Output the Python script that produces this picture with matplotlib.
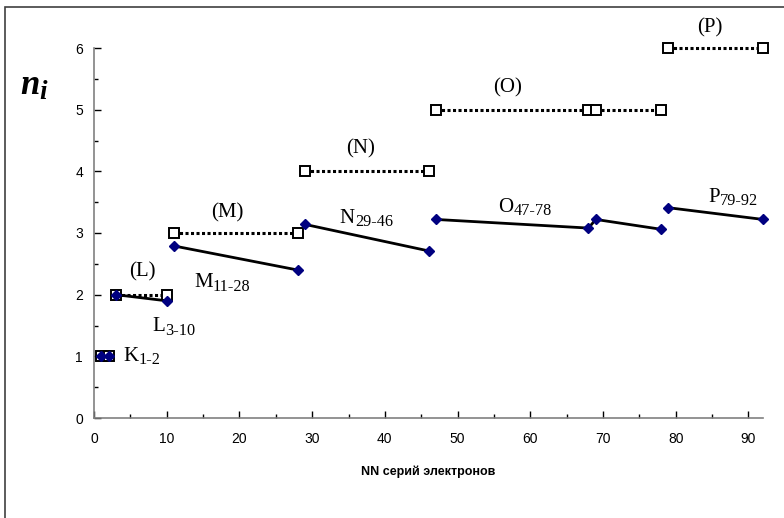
import matplotlib
matplotlib.use("Agg")
import matplotlib.pyplot as plt
from matplotlib.patches import Rectangle
from matplotlib.ticker import MultipleLocator

plt.rcParams['font.family'] = ['Liberation Sans', 'DejaVu Sans']

# electron numbers for each shell (first/last, O has a split at 68/69)
shells = ['K', 'L', 'M', 'N', 'O', 'P']
ranges = ['1-2', '3-10', '11-28', '29-46', '47-78', '79-92']
nn = [
    [1, 2],
    [3, 10],
    [11, 28],
    [29, 46],
    [47, 68, 69, 78],
    [79, 92],
]
# principal quantum number of the shell
n_shell = [
    [1, 1],
    [2, 2],
    [3, 3],
    [4, 4],
    [5, 5, 5, 5],
    [6, 6],
]
# effective n_i of the series
n_eff = [
    [1.0, 1.0],
    [2.0, 1.9],
    [2.79, 2.4],
    [3.14, 2.71],
    [3.22, 3.08, 3.22, 3.06],
    [3.41, 3.22],
]

# label anchors (data coords)
series_lbl_xy = [(4.1, 1.0), (8.0, 1.48), (13.8, 2.19), (33.8, 3.24), (55.6, 3.42), (84.5, 3.58)]
shell_lbl_xy = [None, (6.6, 2.37), (18.3, 3.32), (36.6, 4.36), (56.9, 5.35), (84.7, 6.32)]

SERIF = 'Liberation Serif'

fig = plt.figure(figsize=(7.84, 5.18), dpi=100)
ax = fig.add_axes([94 / 784, 1 - 418 / 518, (763 - 94) / 784, (418 - 48) / 518])

for x, ns, ne in zip(nn, n_shell, n_eff):
    ax.plot(x, ns, ls=(0, (1, 0.8)), lw=2.2, color='black', marker='s', ms=7,
            mfc='white', mec='black', mew=1.4, clip_on=False, zorder=3)
    ax.plot(x, ne, ls='-', lw=2.0, color='black', marker='D', ms=5,
            mfc='#000080', mec='#000080', clip_on=False, zorder=4)


def sub_label(x, y, base, sub, size, coords, **kw):
    t = ax.text(x, y, base, fontsize=size, va='center', ha='left',
                family=SERIF, transform=coords, clip_on=False, **kw)
    # subscript sits a little below the base text's baseline
    ax.annotate(sub, xy=(1, 0), xycoords=t, xytext=(0, size * 0.08),
                textcoords='offset points', fontsize=size * 0.78,
                va='baseline', ha='left', family=SERIF,
                annotation_clip=False, **kw)
    return t


for s, r, (lx, ly) in zip(shells, ranges, series_lbl_xy):
    sub_label(lx, ly, s, r, 15, ax.transData)

for s, xy in zip(shells, shell_lbl_xy):
    if xy is None:
        continue
    ax.text(xy[0], xy[1], '(%s)' % s, fontsize=15, va='center', ha='center',
            family=SERIF, clip_on=False)

ax.set_xlim(0, 92)
ax.set_ylim(0, 6)
ax.xaxis.set_major_locator(MultipleLocator(10))
ax.xaxis.set_minor_locator(MultipleLocator(5))
ax.yaxis.set_major_locator(MultipleLocator(1))
ax.yaxis.set_minor_locator(MultipleLocator(0.5))
ax.tick_params(which='major', direction='in', length=5, width=1, labelsize=10, pad=8)
ax.tick_params(which='minor', direction='in', length=3, width=1)
ax.tick_params(axis='x', pad=10)

for side in ('top', 'right'):
    ax.spines[side].set_visible(False)
for side in ('left', 'bottom'):
    ax.spines[side].set_color('#808080')
    ax.spines[side].set_linewidth(1.2)

ax.set_xlabel('NN серий электронов', fontsize=9, fontweight='bold', labelpad=14)

# axis symbol n_i, bold italic serif
sub_label(20 / 784, 1 - 85 / 518, 'n', 'i', 25, fig.transFigure,
          style='italic', weight='bold')

# frame around the whole chart area
fig.patches.append(Rectangle((5 / 784, -0.05), 1.2, 1.05 - 7 / 518,
                             transform=fig.transFigure, fill=False,
                             edgecolor='#404040', lw=1.2))

fig.savefig('out.png', dpi=100)
